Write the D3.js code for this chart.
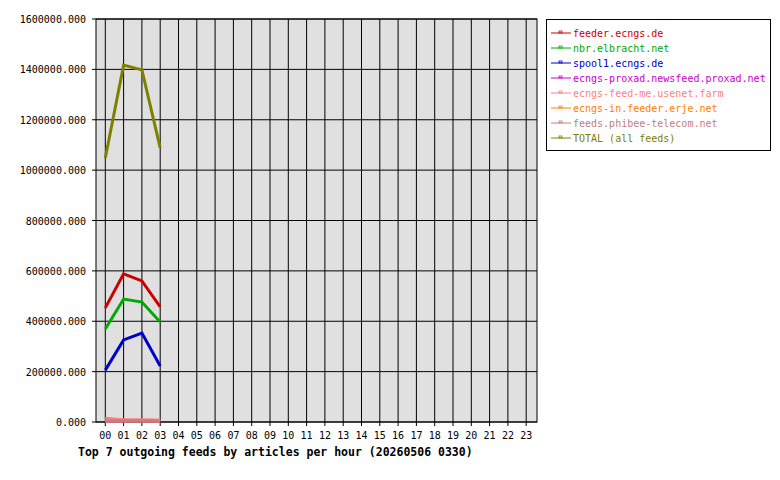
<!DOCTYPE html>
<html><head><meta charset="utf-8">
<script src="https://cdn.jsdelivr.net/npm/d3@7"></script>
<style>body{margin:0;background:#fff}text{font-family:"DejaVu Sans Mono",monospace;font-size:10px}</style>
</head><body><div id="chart"></div>
<script>
var hours = d3.range(24).map(function(h){return (h<10?'0':'')+h;});
var feedNames = ['feeder.ecngs.de','nbr.elbracht.net','spool1.ecngs.de','ecngs-proxad.newsfeed.proxad.net',
  'ecngs-feed-me.usenet.farm','ecngs-in.feeder.erje.net','feeds.phibee-telecom.net','TOTAL (all feeds)'];
var feedColours = ['#cc0000','#00aa00','#0000cc','#cc00cc','#ff8080','#ff8000','#c08080','#808000'];
var feedValues = [
  [453000,588000,560000,457000],
  [369000,488000,476000,397000],
  [206000,326000,353000,222000],
  [2000,3000,5000,2000],
  [15000,9000,9000,8000],
  [4000,5000,5000,4000],
  [3000,3000,3000,3000],
  [1048000,1417000,1398000,1088000]
];
var yTicks = [0,200000,400000,600000,800000,1000000,1200000,1400000,1600000];

var svg = d3.select('#chart').append('svg').attr('width',780).attr('height',480);
var pLeft = 96, pRight = 537, pTop = 19, pBottom = 422;
var x = d3.scalePoint().domain(hours).range([105.3, 105.3+23*18.3]);
var y = d3.scaleLinear().domain([0,1600000]).range([pBottom, pTop]);

svg.append('rect').attr('x',pLeft).attr('y',pTop).attr('width',pRight-pLeft).attr('height',pBottom-pTop)
  .attr('fill','#e0e0e0').attr('stroke','#000');
svg.selectAll('.vg').data(hours).enter().append('line')
  .attr('x1',function(d){return x(d);}).attr('x2',function(d){return x(d);})
  .attr('y1',pTop).attr('y2',pBottom+4).attr('stroke','#000');
svg.selectAll('.hg').data(yTicks).enter().append('line')
  .attr('x1',pLeft-4).attr('x2',pRight).attr('y1',function(d){return y(d);}).attr('y2',function(d){return y(d);})
  .attr('stroke','#000');
svg.selectAll('.yl').data(yTicks).enter().append('text')
  .attr('x',pLeft-10).attr('y',function(d){return y(d)+4;}).attr('text-anchor','end')
  .text(function(d){return d.toFixed(3);});
svg.selectAll('.xl').data(hours).enter().append('text')
  .attr('x',function(d){return x(d);}).attr('y',pBottom+17).attr('text-anchor','middle').text(function(d){return d;});
svg.append('text').attr('x',78).attr('y',456).attr('font-weight','bold').style('font-size','11.5px')
  .text('Top 7 outgoing feeds by articles per hour (20260506 0330)');

var line = d3.line().x(function(d,i){return x(hours[i]);}).y(function(d){return y(d);});
feedValues.forEach(function(v,k){
  svg.append('path').attr('d',line(v)).attr('fill','none').attr('stroke',feedColours[k]).attr('stroke-width',3);
});

var lg = svg.append('g');
lg.append('rect').attr('x',546.5).attr('y',19.5).attr('width',224).attr('height',131).attr('fill','#fff').attr('stroke','#000');
feedNames.forEach(function(n,k){
  var yy = 33 + k*15;
  lg.append('line').attr('x1',551).attr('x2',571).attr('y1',yy).attr('y2',yy).attr('stroke',feedColours[k]);
  lg.append('rect').attr('x',559).attr('y',yy-2).attr('width',3).attr('height',2).attr('fill','none').attr('stroke',feedColours[k]).attr('stroke-width',0.8);
  lg.append('text').attr('x',573).attr('y',yy+4).attr('fill',feedColours[k]).text(n);
});
</script></body></html>
